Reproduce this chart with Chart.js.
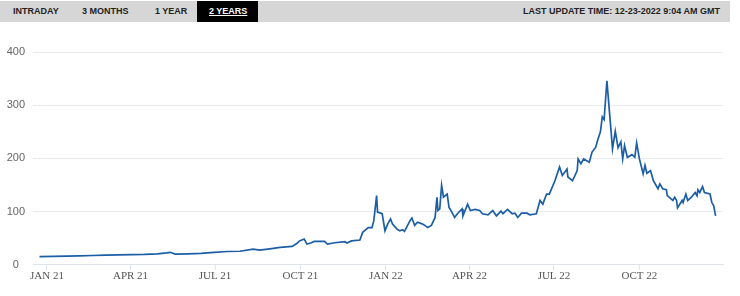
<!DOCTYPE html>
<html>
<head>
<meta charset="utf-8">
<script src="https://cdn.jsdelivr.net/npm/chart.js@4.4.1/dist/chart.umd.min.js"></script>
<style>
  html, body { margin: 0; padding: 0; background: #fff; }
  body { width: 740px; height: 296px; position: relative; overflow: hidden; font-family: "Liberation Sans", Arial, sans-serif; }
  #tabs {
    position: absolute; left: 0; top: 1px; width: 730px; height: 21px;
    background: #d6d6d6; font-size: 9px; font-weight: bold; color: #222;
  }
  #tabs span { position: absolute; top: 0; line-height: 21px; }
  #tabs .active { background: #000; color: #fff; text-decoration: underline; padding: 0 11px 0 12px; }
  #chart-wrap { position: absolute; left: 0; top: 0; width: 740px; height: 296px; }
</style>
</head>
<body>
<div id="tabs">
  <span style="left:13px">INTRADAY</span>
  <span style="left:82px">3 MONTHS</span>
  <span style="left:155px">1 YEAR</span>
  <span class="active" style="left:197px">2 YEARS</span>
  <span style="right:10px">LAST UPDATE TIME: 12-23-2022 9:04 AM GMT</span>
</div>
<div id="chart-wrap"><canvas id="priceChart" width="740" height="296"></canvas></div>
<script>
const dates = [
  '2020-12-24','2021-01-08','2021-01-22','2021-02-05','2021-02-19','2021-03-05','2021-03-19',
  '2021-04-02','2021-04-16','2021-04-30','2021-05-10','2021-05-14','2021-05-19','2021-06-02',
  '2021-06-16','2021-06-30','2021-07-14','2021-07-28','2021-08-11','2021-08-18','2021-08-29',
  '2021-09-09','2021-09-22','2021-09-27','2021-09-30','2021-10-05','2021-10-08','2021-10-12',
  '2021-10-16','2021-10-27','2021-10-30','2021-11-07','2021-11-18','2021-11-20','2021-11-25',
  '2021-12-04','2021-12-07','2021-12-13','2021-12-17','2021-12-19','2021-12-22','2021-12-23',
  '2021-12-28','2021-12-31','2022-01-03','2022-01-06','2022-01-08','2022-01-13','2022-01-16',
  '2022-01-19','2022-01-21','2022-01-27','2022-01-29','2022-02-01','2022-02-04','2022-02-09',
  '2022-02-12','2022-02-15','2022-02-19','2022-02-23','2022-02-25','2022-02-26','2022-02-28',
  '2022-03-02','2022-03-04','2022-03-08','2022-03-10','2022-03-13','2022-03-16','2022-03-19',
  '2022-03-24','2022-03-25','2022-03-30','2022-04-02','2022-04-07','2022-04-12','2022-04-15',
  '2022-04-21','2022-04-26','2022-04-30','2022-05-05','2022-05-07','2022-05-12','2022-05-17',
  '2022-05-20','2022-05-23','2022-05-27','2022-06-02','2022-06-05','2022-06-12','2022-06-16',
  '2022-06-19','2022-06-23','2022-06-26','2022-07-02','2022-07-07','2022-07-10','2022-07-15',
  '2022-07-16','2022-07-21','2022-07-26','2022-07-27','2022-07-30','2022-08-02','2022-08-08',
  '2022-08-11','2022-08-15','2022-08-17','2022-08-20','2022-08-22','2022-08-24','2022-08-27',
  '2022-08-29','2022-09-01','2022-09-02','2022-09-05','2022-09-08','2022-09-11','2022-09-13',
  '2022-09-15','2022-09-18','2022-09-23','2022-09-26','2022-09-28','2022-10-01','2022-10-05',
  '2022-10-07','2022-10-09','2022-10-13','2022-10-16','2022-10-21','2022-10-23','2022-10-26',
  '2022-10-30','2022-10-31','2022-11-06','2022-11-08','2022-11-10','2022-11-11','2022-11-16',
  '2022-11-17','2022-11-20','2022-11-22','2022-11-26','2022-11-30','2022-12-02','2022-12-03',
  '2022-12-05','2022-12-08','2022-12-10','2022-12-16','2022-12-18','2022-12-20','2022-12-22'
];
const prices = [
  15.5, 15.8, 16.2, 16.8, 17.5, 18, 18.6,
  19.2, 19.5, 20.5, 22.5, 23.5, 20, 20.5,
  21.5, 23.5, 25, 25.5, 29.5, 27.7, 30,
  32.7, 34.6, 40, 45, 48.4, 39, 41,
  44, 44, 39, 41.5, 43.4, 41, 45,
  46.5, 61, 70, 70, 83, 130, 99,
  96, 64, 77, 86, 77, 67, 64,
  66, 63, 83, 88, 74, 80, 77,
  74, 70, 74, 89, 127, 102, 105,
  149, 127, 133, 108, 99, 89, 96,
  105, 92, 114, 102, 104, 102, 96,
  94, 102, 92, 101, 96, 104, 96,
  97, 89, 97, 97, 94, 96, 121,
  114, 133, 133, 158, 184, 168, 180,
  165, 158, 177, 199, 190, 199, 193,
  212, 221, 234, 250, 278, 273, 346,
  303, 240, 218, 251, 220, 231, 199,
  224, 202, 207, 202, 229, 199, 171,
  187, 172, 177, 158, 143, 152, 143,
  141, 130, 121, 127, 121, 107, 121,
  117, 133, 121, 127, 136, 130, 141,
  136, 147, 136, 133, 117, 111, 92
];
const tickDates = ['2021-01-01','2021-04-01','2021-07-01','2021-10-01','2022-01-01','2022-04-01','2022-07-01','2022-10-01'];
const tickLabels = ['JAN 21','APR 21','JUL 21','OCT 21','JAN 22','APR 22','JUL 22','OCT 22'];
const yTicks = [0, 100, 200, 300, 400];

// days since 2021-01-01
function dayNum(s) {
    const p = s.split('-').map(Number);
    return (Date.UTC(p[0], p[1] - 1, p[2]) - Date.UTC(2021, 0, 1)) / 86400000;
}
const tickDays = tickDates.map(dayNum);
const points = dates.map((d, i) => ({ x: dayNum(d), y: prices[i] }));

const ctx = document.getElementById('priceChart').getContext('2d');
new Chart(ctx, {
    type: 'line',
    data: {
        datasets: [{
            data: points,
            borderColor: '#1c5ea6',
            borderWidth: 1.7,
            pointRadius: 0,
            fill: false,
            tension: 0
        }]
    },
    options: {
        responsive: false,
        animation: false,
        layout: { padding: { top: 52, right: 17, bottom: 13, left: 0 } },
        plugins: { legend: { display: false }, tooltip: { enabled: false } },
        scales: {
            x: {
                type: 'linear',
                min: -15,
                max: 728,
                afterBuildTicks: scale => { scale.ticks = tickDays.map(v => ({ value: v })); },
                ticks: {
                    autoSkip: false,
                    maxRotation: 0,
                    color: '#555',
                    padding: 0,
                    font: { family: 'Liberation Sans Narrow', size: 11 },
                    callback: v => tickLabels[tickDays.indexOf(v)]
                },
                grid: { drawOnChartArea: false, drawTicks: true, tickLength: 5, color: '#dfe4ea' },
                border: { color: '#dfe4ea' }
            },
            y: {
                min: 0,
                max: 400,
                afterBuildTicks: scale => { scale.ticks = yTicks.map(v => ({ value: v })); },
                afterFit: scale => { scale.width = 33; },
                ticks: {
                    color: '#666',
                    padding: 8,
                    crossAlign: 'center',
                    font: { family: 'Liberation Sans', size: 11 }
                },
                grid: { color: '#e8ecf1', drawTicks: false },
                border: { display: false }
            }
        }
    }
});
</script>
</body>
</html>
